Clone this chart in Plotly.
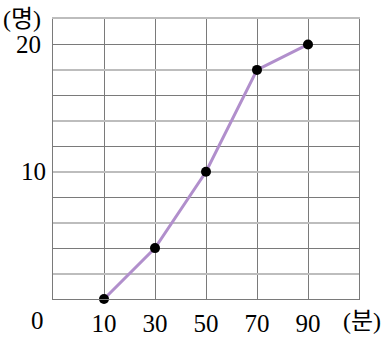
import plotly.graph_objects as go

# data
minutes = [10, 30, 50, 70, 90]
people = [0, 4, 10, 18, 20]

x_ticks = [10, 30, 50, 70, 90]
x_labels = ["10", "30", "50", "70", "90"]
y_dark = [0, 4, 8, 12, 16, 20]
y_dark_labels = ["", "", "", "", "", "20"]
y_light = [2, 6, 10, 14, 18, 22]
y_light_labels = ["", "", "10", "", "", ""]

FONT = "Liberation Serif, Noto Sans CJK KR"
DARK = "#7a7a7a"
LIGHT = "#bdbdbd"

fig = go.Figure()
fig.add_trace(go.Scatter(
    x=minutes, y=people, mode="lines+markers",
    line=dict(color="#b18fcc", width=3),
    marker=dict(color="black", size=10),
    showlegend=False, cliponaxis=False,
))
# invisible trace for the overlay axes
fig.add_trace(go.Scatter(x=[minutes[0]], y=[people[0]], xaxis="x2", yaxis="y2",
                         mode="markers", marker=dict(opacity=0),
                         showlegend=False, hoverinfo="skip"))

fig.update_layout(
    width=385, height=341,
    margin=dict(l=53, r=26, t=19, b=42),
    paper_bgcolor="white", plot_bgcolor="white",
    font=dict(family=FONT, size=25, color="black"),
    xaxis=dict(range=[-10, 110], tickmode="array", tickvals=x_ticks, ticktext=x_labels,
               showgrid=True, gridcolor=DARK, gridwidth=1, zeroline=False,
               showline=True, linecolor=DARK, linewidth=1,
               ticks="", ticklabelstandoff=2, automargin=False),
    xaxis2=dict(range=[-10, 110], overlaying="x", side="top", anchor="y2",
                showgrid=False, zeroline=False, showticklabels=False,
                showline=True, linecolor=LIGHT, linewidth=2, ticks="", automargin=False),
    yaxis=dict(range=[0, 22], tickmode="array", tickvals=y_dark, ticktext=y_dark_labels,
               showgrid=True, gridcolor=DARK, gridwidth=1, zeroline=False,
               showline=True, mirror=True, linecolor=DARK, linewidth=1,
               ticks="", ticklabelstandoff=6, automargin=False),
    yaxis2=dict(range=[0, 22], overlaying="y", side="left", anchor="x", tickmode="array",
                tickvals=y_light, ticktext=y_light_labels,
                showgrid=True, gridcolor=LIGHT, gridwidth=2, zeroline=False,
                showline=False, ticks="", ticklabelstandoff=6, automargin=False),
    annotations=[
        dict(text="(명)", xref="paper", yref="paper", x=-0.1, y=1.0,
             xanchor="center", yanchor="middle", showarrow=False,
             font=dict(family=FONT, size=24)),
        dict(text="0", xref="paper", yref="paper", x=-0.052, y=-0.078,
             xanchor="center", yanchor="middle", showarrow=False),
        dict(text="(분)", xref="paper", yref="paper", x=1.01, y=-0.078,
             xanchor="center", yanchor="middle", showarrow=False,
             font=dict(family=FONT, size=24)),
    ],
)

fig.write_html("out.html")
